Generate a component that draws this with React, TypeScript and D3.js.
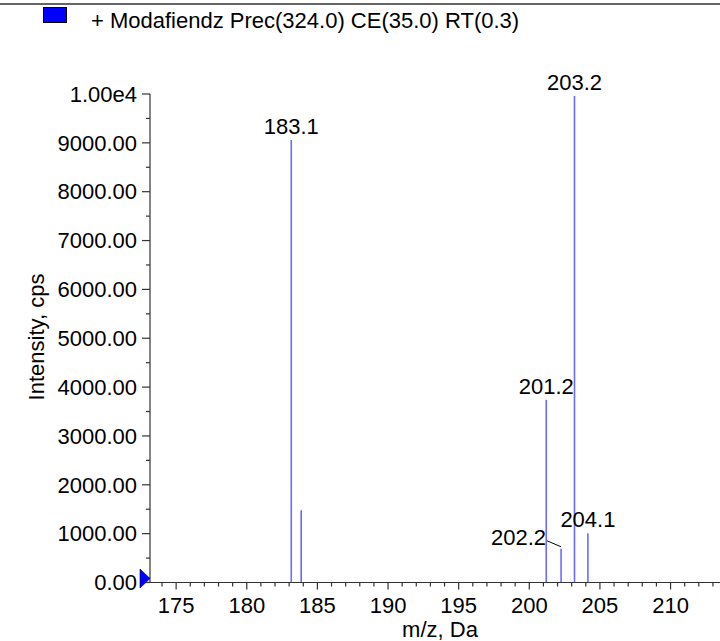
import React from "react";
import * as d3 from "d3";

const peakMz = [183.15, 183.85, 201.2, 202.25, 203.2, 204.15];
const peakIntensity = [9060, 1480, 3740, 690, 9960, 1010];
const peakLabels = ["183.1", "", "201.2", "202.2", "203.2", "204.1"];
const yTicks = [0, 1000, 2000, 3000, 4000, 5000, 6000, 7000, 8000, 9000, 10000];
const xTicks = [175, 180, 185, 190, 195, 200, 205, 210];
const legendText = "+ Modafiendz Prec(324.0) CE(35.0) RT(0.3)";

const W = 720, H = 641;
const FONT = "'Liberation Sans', Arial, sans-serif";

export default function App() {
  const x = d3.scaleLinear().domain([173.15, 213.5]).range([150, 720]);
  const y = d3.scaleLinear().domain([0, 10000]).range([582.5, 94]);
  const minorX = d3.range(174, 214, 1).filter((v) => v % 5 !== 0);
  const minorY = d3.range(500, 10000, 1000);
  const fmtY = (v: number) => (v === 10000 ? "1.00e4" : v.toFixed(2));
  const fs = 22;

  return (
    <svg width={W} height={H} style={{ display: "block", position: "absolute", left: 0, top: 0 }} fontFamily={FONT}>
      <rect width={W} height={H} fill="#fff" />
      <line x1={0} x2={W} y1={4} y2={4} stroke="#333" strokeWidth={1.5} />
      {/* legend */}
      <rect x={43.5} y={7.5} width={23} height={15} fill="#0000ff" stroke="#000" strokeWidth={1} />
      <text x={91} y={28} fontSize={fs} fill="#000">{legendText}</text>

      {/* peaks */}
      {peakMz.map((m, i) => (
        <line key={i} x1={x(m)} x2={x(m)} y1={y(0)} y2={y(peakIntensity[i])}
          stroke={i === 1 ? "#3333ff" : "#6b6bff"} strokeWidth={i === 1 ? 1.2 : 1.6} />
      ))}
      {peakMz.map((m, i) => {
        const lab = peakLabels[i];
        if (!lab) return null;
        const px = x(m), py = y(peakIntensity[i]);
        if (lab === "202.2") {
          return (
            <g key={"l" + i}>
              <line x1={px - 14} y1={py - 8} x2={px} y2={py - 2} stroke="#000" strokeWidth={1} />
              <text x={px - 15} y={py - 4} fontSize={fs} textAnchor="end">{lab}</text>
            </g>
          );
        }
        return (
          <text key={"l" + i} x={px} y={py - 6} fontSize={fs} textAnchor="middle">{lab}</text>
        );
      })}

      {/* y axis */}
      <line x1={150} x2={150} y1={y(10000)} y2={y(0)} stroke="#333" strokeWidth={1.2} />
      {yTicks.map((t) => (
        <g key={t}>
          <line x1={142} x2={150} y1={y(t)} y2={y(t)} stroke="#333" strokeWidth={1.2} />
          <text x={137} y={y(t)} dy="0.35em" fontSize={fs} textAnchor="end">{fmtY(t)}</text>
        </g>
      ))}
      {minorY.map((t) => (
        <line key={"m" + t} x1={146} x2={150} y1={y(t)} y2={y(t)} stroke="#333" strokeWidth={1.2} />
      ))}
      <text transform={`translate(36,337) rotate(-90)`} fontSize={fs} textAnchor="middle" dy="0.35em">Intensity, cps</text>

      {/* x axis */}
      <line x1={150} x2={720} y1={y(0)} y2={y(0)} stroke="#333" strokeWidth={1.2} />
      {xTicks.map((t) => (
        <g key={t}>
          <line x1={x(t)} x2={x(t)} y1={y(0)} y2={y(0) + 7} stroke="#333" strokeWidth={1.2} />
          <text x={x(t)} y={y(0) + 30} fontSize={fs} textAnchor="middle">{t}</text>
        </g>
      ))}
      {minorX.map((t) => (
        <line key={"mx" + t} x1={x(t)} x2={x(t)} y1={y(0)} y2={y(0) + 4} stroke="#333" strokeWidth={1.2} />
      ))}
      <text x={440} y={637} fontSize={fs} textAnchor="middle">m/z, Da</text>

      {/* zero marker */}
      <path d={`M140,569 L150,578.5 L140,588 Z`} fill="#0000ff" stroke="#000" strokeWidth={0.6} />
    </svg>
  );
}
